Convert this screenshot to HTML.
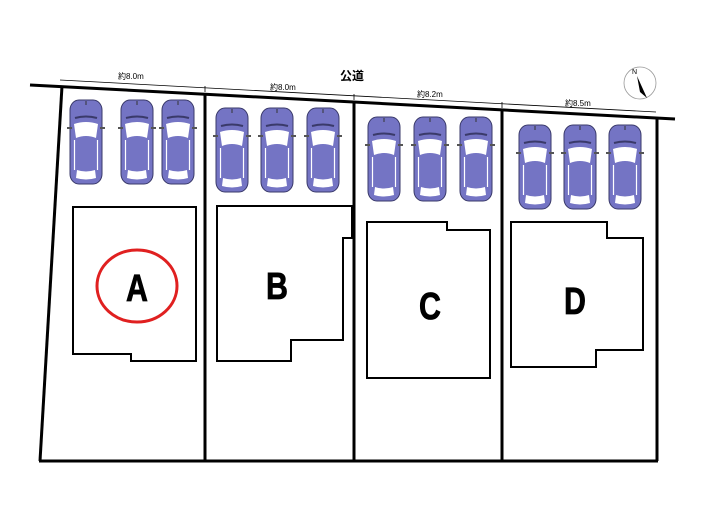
<!DOCTYPE html>
<html><head><meta charset="utf-8"><style>
html,body{margin:0;padding:0;background:#fff;}
svg{display:block;}
</style></head><body>
<svg width="705" height="525" viewBox="0 0 705 525" xmlns="http://www.w3.org/2000/svg">
<defs>
<g id="car">
  <rect x="1" y="0" width="32" height="84" rx="9" ry="10" fill="#7474c4" stroke="#3a3a6a" stroke-width="1"/>
  <line x1="17" y1="1" x2="17" y2="5" stroke="#333" stroke-width="1"/>
  <path d="M6 18 Q17 15 28 18" stroke="#3a3a6a" stroke-width="2" fill="none"/>
  <path d="M5 24 Q17 20 29 24 L27 38 Q17 34 7 38 Z" fill="#fff"/>
  <path d="M5.5 40 L5.5 70 M28.5 40 L28.5 70" stroke="#fff" stroke-width="1.2"/>
  <path d="M8 70 Q17 73 26 70 L27 78 Q17 81 7 78 Z" fill="#fff"/>
  <rect x="-2" y="27" width="5" height="2" fill="#555"/>
  <rect x="31" y="27" width="5" height="2" fill="#555"/>
</g>
</defs>
<line x1="30" y1="85" x2="675" y2="119" stroke="#000" stroke-width="3"/>
<line x1="60" y1="80" x2="656" y2="112" stroke="#000" stroke-width="0.8"/>
<g stroke="#000" stroke-width="0.8">
<line x1="205" y1="86" x2="205" y2="92"/><line x1="354" y1="94" x2="354" y2="100"/><line x1="502" y1="102" x2="502" y2="108"/>
</g>
<g font-family="Liberation Sans, 'Noto Sans CJK JP', sans-serif" font-size="8" fill="#000">
<text x="118" y="79">約8.0m</text>
<text x="270" y="90">約8.0m</text>
<text x="417" y="97">約8.2m</text>
<text x="565" y="106">約8.5m</text>
</g>
<text x="340" y="80" font-family="Liberation Sans, 'Noto Sans CJK JP', sans-serif" font-size="12" font-weight="bold">公道</text>
<circle cx="640" cy="83" r="16" fill="#fff" stroke="#999" stroke-width="0.8"/>
<polygon points="637,76 647,98 640,92" fill="#000"/>
<text x="632" y="74" font-family="Liberation Sans, sans-serif" font-size="7">N</text>
<g stroke="#000" stroke-width="3" fill="none">
<line x1="62" y1="86" x2="40" y2="461"/>
<line x1="205" y1="93" x2="205" y2="461"/>
<line x1="354" y1="101" x2="354" y2="461"/>
<line x1="502" y1="109" x2="502" y2="461"/>
<line x1="657" y1="118" x2="657" y2="461"/>
<line x1="39" y1="461" x2="658" y2="461"/>
</g>
<use href="#car" x="69" y="100"/><use href="#car" x="120" y="100"/><use href="#car" x="161" y="100"/>
<use href="#car" x="215" y="108"/><use href="#car" x="260" y="108"/><use href="#car" x="306" y="108"/>
<use href="#car" x="367" y="117"/><use href="#car" x="413" y="117"/><use href="#car" x="459" y="117"/>
<use href="#car" x="518" y="125"/><use href="#car" x="563" y="125"/><use href="#car" x="608" y="125"/>
<g stroke="#000" stroke-width="2" fill="none">
<polygon points="73,207 196,207 196,361 131,361 131,354 73,354"/>
<polygon points="217,206 352,206 352,238 343,238 343,340 291,340 291,361 217,361"/>
<polygon points="367,222 447,222 447,230 490,230 490,378 367,378"/>
<polygon points="511,222 607,222 607,238 643,238 643,350 596,350 596,367 511,367"/>
</g>
<ellipse cx="137" cy="286" rx="40" ry="36" fill="none" stroke="#e02020" stroke-width="3"/>
<g font-family="Liberation Sans, sans-serif" font-size="38" font-weight="bold" text-anchor="middle" fill="#000" stroke="#000" stroke-width="0.8">
<text x="137" y="301" transform="translate(137 0) scale(0.8 1) translate(-137 0)">A</text>
<text x="277" y="299" transform="translate(277 0) scale(0.8 1) translate(-277 0)">B</text>
<text x="430" y="319" transform="translate(430 0) scale(0.8 1) translate(-430 0)">C</text>
<text x="575" y="314" transform="translate(575 0) scale(0.8 1) translate(-575 0)">D</text>
</g>
</svg>
</body></html>
